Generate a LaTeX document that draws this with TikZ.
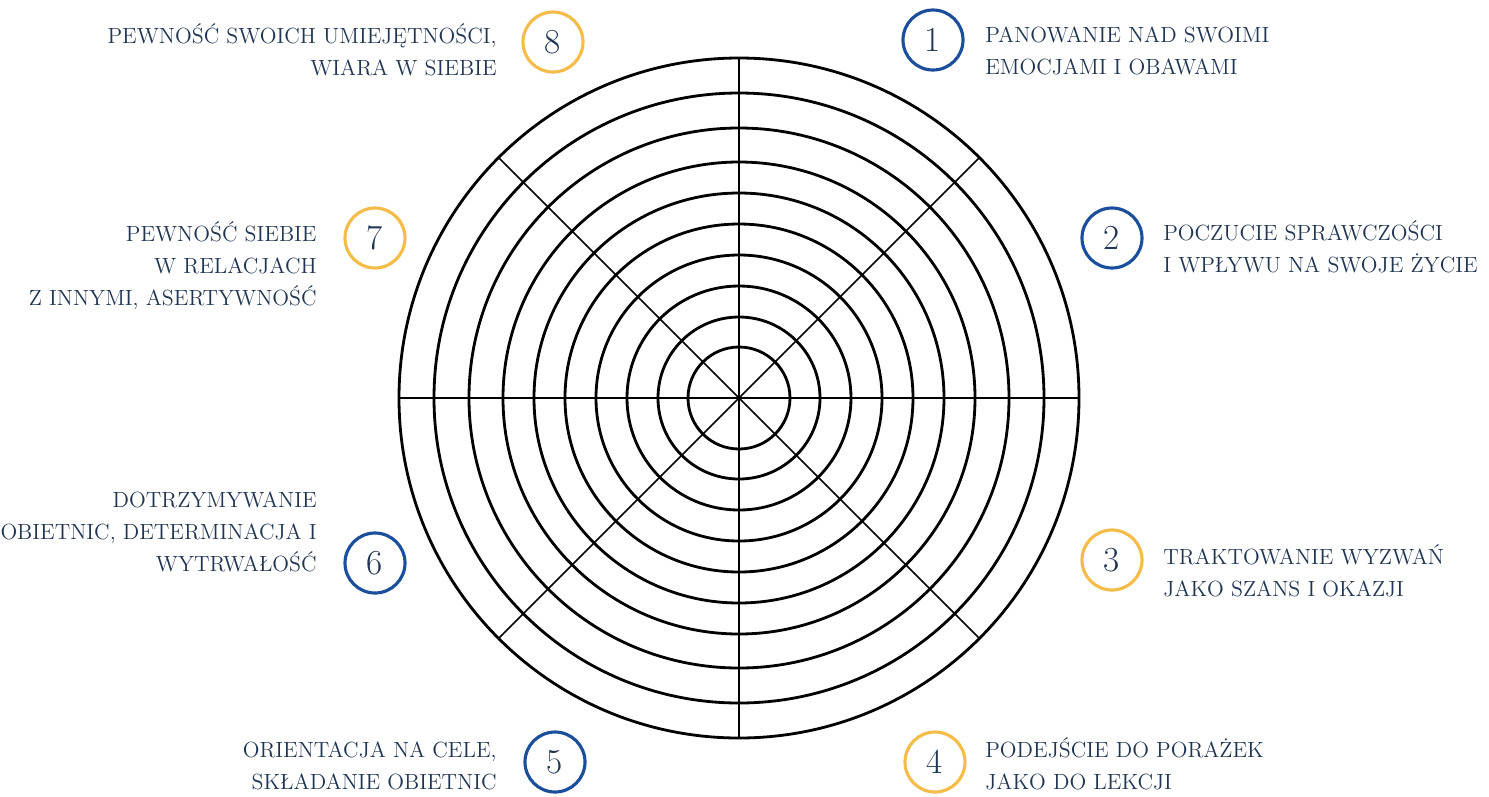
\documentclass[tikz,border=0pt]{standalone}
\usepackage{fontspec}
\usepackage{xcolor}
\usetikzlibrary{positioning}
\definecolor{ringblue}{HTML}{1B4F9C}
\definecolor{ringgold}{HTML}{F5BC4A}
\definecolor{labelink}{HTML}{1F3552}

\begin{document}
\begin{tikzpicture}[
  x=0.02cm, y=-0.02cm,
  ring/.style={draw=black, line width=1.6pt},
  spoke/.style={draw=black, line width=0.9pt},
  badge/.style={circle, draw, line width=1.8pt, minimum size=1.2cm,
                inner sep=0pt, text=labelink, font=\fontsize{20}{20}\selectfont},
  bluebadge/.style={badge, draw=ringblue},
  goldbadge/.style={badge, draw=ringgold},
  lbl/.style={text=labelink, font=\fontsize{12.5}{18.2}\selectfont, inner sep=0pt},
  lblright/.style={lbl, align=left, anchor=base west},
  lblleft/.style={lbl, align=right, anchor=base east}
]
\useasboundingbox (0,0) rectangle (1489,796);
\coordinate (hub) at (739,398);

% wheel
\foreach \a in {0,45,90,135}
  \draw[spoke] ([shift={(\a:340)}]hub) -- ([shift={(\a+180:340)}]hub);
\foreach \r in {51,81,112,143,174,205,236,270,305,340}
  \draw[ring] (hub) circle[radius=\r];

% badges
\node[bluebadge] (n1) at (933,40)  {1};
\node[bluebadge] (n2) at (1112,238) {2};
\node[goldbadge] (n3) at (1112,560) {3};
\node[goldbadge] (n4) at (935,762) {4};
\node[bluebadge] (n5) at (555,762) {5};
\node[bluebadge] (n6) at (375,563) {6};
\node[goldbadge] (n7) at (375,238) {7};
\node[goldbadge] (n8) at (553,42)  {8};

% labels (anchored at the last line)
\node[lblright] (t1) at (985,74)  {PANOWANIE NAD SWOIMI\\EMOCJAMI I OBAWAMI};
\node[lblright] (t2) at (1163,272) {POCZUCIE SPRAWCZOŚCI\\I WPŁYWU NA SWOJE ŻYCIE};
\node[lblright] (t3) at (1163,596) {TRAKTOWANIE WYZWAŃ\\JAKO SZANS I OKAZJI};
\node[lblright] (t4) at (985,789) {PODEJŚCIE DO PORAŻEK\\JAKO DO LEKCJI};
\node[lblleft] (t5) at (497,789) {ORIENTACJA NA CELE,\\SKŁADANIE OBIETNIC};
\node[lblleft] (t6) at (317,571) {DOTRZYMYWANIE\\OBIETNIC, DETERMINACJA I\\WYTRWAŁOŚĆ};
\node[lblleft] (t7) at (317,305) {PEWNOŚĆ SIEBIE\\W RELACJACH\\Z INNYMI, ASERTYWNOŚĆ};
\node[lblleft] (t8) at (497,75)  {PEWNOŚĆ SWOICH UMIEJĘTNOŚCI,\\WIARA W SIEBIE};
\end{tikzpicture}
\end{document}
